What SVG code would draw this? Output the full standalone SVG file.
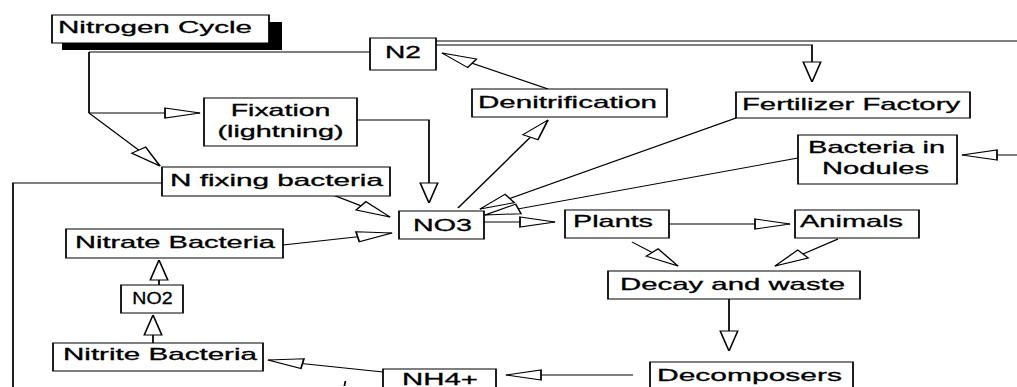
<svg xmlns="http://www.w3.org/2000/svg" width="1017" height="387" viewBox="0 0 1017 387">
<style>
.box{fill:#fff;stroke:#000;stroke-width:1}
.shadow{fill:#000}
.ln{fill:none;stroke:#000;stroke-width:1}
.arr{marker-end:url(#ah)}
text{font-family:"Liberation Sans",Arial,sans-serif;font-size:16px;fill:#000;stroke:#000;stroke-width:0.3;text-anchor:middle}
</style>
<defs>
<marker id="ah" markerUnits="userSpaceOnUse" viewBox="-1 -6 22 12" markerWidth="22" markerHeight="12" refX="20" refY="0" orient="auto">
<path d="M0,-5 L20,0 L0,5 Z" fill="#fff" stroke="#000" stroke-width="1"/>
</marker>
</defs>
<rect width="1017" height="387" fill="#fff"/>
<g transform="scale(1.75 1)">
<g id="connectors">
<path class="ln" d="M50.86,52 H211.43 M50.86,52 V113"/>
<path class="ln arr" d="M50.86,113 H114.29"/>
<path class="ln arr" d="M50.86,113 L91.43,166"/>
<path class="ln" d="M249.14,41 H581.14"/>
<path class="ln arr" d="M249.14,45 H464 V82"/>
<path class="ln arr" d="M581.14,155 H549.71"/>
<path class="ln arr" d="M313.14,89 L252.57,53"/>
<path class="ln arr" d="M261.71,208 L313.14,120"/>
<path class="ln arr" d="M204,120 H245.14 V203"/>
<path class="ln arr" d="M420.57,118 L274.29,209"/>
<path class="ln arr" d="M456,158 L277.14,215"/>
<path class="ln arr" d="M276.57,222 H317.14"/>
<path class="ln arr" d="M382.29,224 H451.43"/>
<path class="ln arr" d="M361.14,242 L387.43,266"/>
<path class="ln arr" d="M478.86,239 L442.86,266"/>
<path class="ln arr" d="M416.57,299 V351"/>
<path class="ln arr" d="M361.71,375 H289.14"/>
<path class="ln arr" d="M218.86,372 L153.14,360"/>
<path class="ln arr" d="M90.86,285 V260"/>
<path class="ln arr" d="M87.43,343 V315"/>
<path class="ln arr" d="M161.71,245 L224,233"/>
<path class="ln arr" d="M190.29,195 L222.86,217"/>
<path class="ln" d="M92.57,183 H7.43 V387"/>
<path class="ln" d="M197.4,381 L196.8,386"/>
</g>
<g id="nitrogen-cycle">
<rect class="shadow" x="35.43" y="22" width="125.71" height="28"/>
<rect class="box" x="29.71" y="15" width="124" height="28"/>
<text x="88.57" y="33" textLength="110.86" lengthAdjust="spacingAndGlyphs">Nitrogen Cycle</text>
</g>
<g id="n2">
<rect class="box" x="211.43" y="38" width="37.71" height="32"/>
<text x="230.3" y="58" textLength="20.57" lengthAdjust="spacingAndGlyphs">N2</text>
</g>
<g id="fixation">
<rect class="box" x="116.57" y="98" width="87.43" height="48"/>
<text x="160.3" y="116" textLength="57" lengthAdjust="spacingAndGlyphs">Fixation</text>
<text x="160.3" y="137" textLength="72" lengthAdjust="spacingAndGlyphs">(lightning)</text>
</g>
<g id="denitrification">
<rect class="box" x="269.71" y="89" width="111.43" height="28"/>
<text x="324.3" y="108" textLength="102.3" lengthAdjust="spacingAndGlyphs">Denitrification</text>
</g>
<g id="fertilizer-factory">
<rect class="box" x="420.57" y="92" width="133.72" height="26"/>
<text x="486.3" y="110" textLength="124.6" lengthAdjust="spacingAndGlyphs">Fertilizer Factory</text>
</g>
<g id="bacteria-nodules">
<rect class="box" x="456" y="135" width="90.86" height="49"/>
<text x="500.9" y="153" textLength="78.3" lengthAdjust="spacingAndGlyphs">Bacteria in</text>
<text x="500.3" y="174" textLength="61.1" lengthAdjust="spacingAndGlyphs">Nodules</text>
</g>
<g id="n-fixing-bacteria">
<rect class="box" x="92.57" y="167" width="130.29" height="29"/>
<text x="158" y="186" textLength="121.7" lengthAdjust="spacingAndGlyphs">N fixing bacteria</text>
</g>
<g id="nitrate-bacteria">
<rect class="box" x="37.71" y="229" width="124" height="29"/>
<text x="100" y="248" textLength="114.3" lengthAdjust="spacingAndGlyphs">Nitrate Bacteria</text>
</g>
<g id="no3">
<rect class="box" x="228" y="211" width="48.57" height="28"/>
<text x="252.86" y="231" textLength="33.7" lengthAdjust="spacingAndGlyphs">NO3</text>
</g>
<g id="plants">
<rect class="box" x="322.86" y="210" width="59.43" height="28"/>
<text x="350.3" y="227" textLength="45.7" lengthAdjust="spacingAndGlyphs">Plants</text>
</g>
<g id="animals">
<rect class="box" x="454.29" y="210" width="70.85" height="28"/>
<text x="486.6" y="227" textLength="58.9" lengthAdjust="spacingAndGlyphs">Animals</text>
</g>
<g id="decay">
<rect class="box" x="347.43" y="271" width="144" height="28"/>
<text x="418.6" y="290" textLength="128.6" lengthAdjust="spacingAndGlyphs">Decay and waste</text>
</g>
<g id="no2">
<rect class="box" x="69.14" y="285" width="35.43" height="28"/>
<text x="87.14" y="304" textLength="23" lengthAdjust="spacingAndGlyphs">NO2</text>
</g>
<g id="nitrite-bacteria">
<rect class="box" x="30.29" y="343" width="120" height="28"/>
<text x="91.43" y="360" textLength="110.9" lengthAdjust="spacingAndGlyphs">Nitrite Bacteria</text>
</g>
<g id="nh4">
<rect class="box" x="218.86" y="369" width="64.57" height="31"/>
<text x="251.43" y="385" textLength="43.4" lengthAdjust="spacingAndGlyphs">NH4+</text>
</g>
<g id="decomposers">
<rect class="box" x="371.43" y="362" width="116" height="38"/>
<text x="428.3" y="381" textLength="105.7" lengthAdjust="spacingAndGlyphs">Decomposers</text>
</g>
</g>
</svg>
